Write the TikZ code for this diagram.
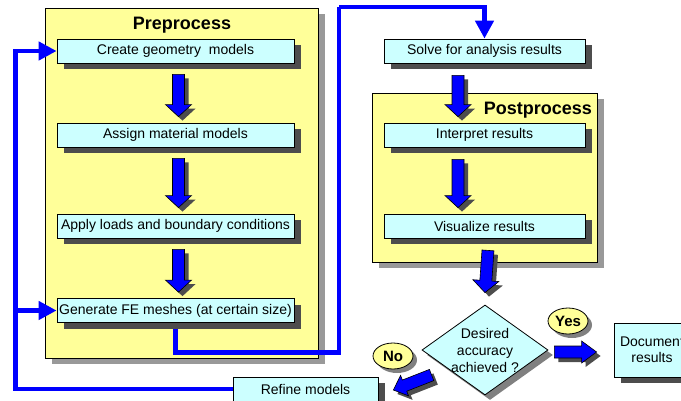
\documentclass[tikz,border=0pt]{standalone}
\usepackage{fontspec}
\setmainfont{Liberation Sans}
\usetikzlibrary{calc,shapes.geometric,shadows,arrows.meta}

\definecolor{paleyellow}{HTML}{FFFF99}
\definecolor{palecyan}{HTML}{CCFFFF}
\definecolor{shadowdark}{HTML}{4D4D4D}
\definecolor{shadowmid}{HTML}{808080}
\definecolor{shadowlight}{HTML}{999999}
\definecolor{flowblue}{HTML}{0000FF}

% Fat block arrow from tail #1 to tip #2; #3 head length, #4 half head width
\newcommand\blockarrow[4]{%
  \coordinate (ba-s) at #1;
  \coordinate (ba-e) at #2;
  \coordinate (ba-h) at ($(ba-e)!#3!(ba-s)$);
  \fill[shadowdark, transform canvas={shift={(4pt,-4pt)}}]
    ($(ba-s)!6pt!90:(ba-e)$) -- ($(ba-h)!6pt!90:(ba-e)$) -- ($(ba-h)!#4!90:(ba-e)$)
    -- (ba-e) -- ($(ba-h)!#4!-90:(ba-e)$) -- ($(ba-h)!6pt!-90:(ba-e)$)
    -- ($(ba-s)!6pt!-90:(ba-e)$) -- cycle;
  \draw[fill=flowblue, draw=black, line width=0.6pt]
    ($(ba-s)!6pt!90:(ba-e)$) -- ($(ba-h)!6pt!90:(ba-e)$) -- ($(ba-h)!#4!90:(ba-e)$)
    -- (ba-e) -- ($(ba-h)!#4!-90:(ba-e)$) -- ($(ba-h)!6pt!-90:(ba-e)$)
    -- ($(ba-s)!6pt!-90:(ba-e)$) -- cycle;
}

\tikzset{
  stage/.style={draw=black, line width=0.8pt, fill=paleyellow, inner sep=0pt,
    drop shadow={shadow xshift=7pt, shadow yshift=-6pt, fill=shadowlight, opacity=1}},
  task/.style={draw=black, line width=0.8pt, fill=palecyan, inner sep=0pt,
    minimum height=24pt, font=\fontsize{14}{17}\selectfont,
    drop shadow={shadow xshift=7pt, shadow yshift=-6pt, fill=shadowdark, opacity=1}},
  title/.style={font=\fontsize{18}{20}\selectfont\bfseries, inner sep=0pt},
  tag/.style={ellipse, draw=black, line width=0.8pt, fill=paleyellow, inner sep=0pt,
    minimum width=40pt, minimum height=26pt, font=\fontsize{15}{17}\selectfont\bfseries,
    drop shadow={shadow xshift=4pt, shadow yshift=-4pt, fill=shadowmid, opacity=1}},
  flow/.style={draw=flowblue, line width=4.5pt},
  flowtip/.style={flow, -{Triangle[length=18pt, width=18pt]}},
}

\begin{document}
\begin{tikzpicture}[x=1pt, y=-1pt]
\useasboundingbox (0,0) rectangle (681,400);

% Preprocess stage
\node[stage, minimum width=273pt, minimum height=350pt] (pre) at (181.5,183) {};
\node[title] (pretitle) at (182,25) {Preprocess};
\node[task, minimum width=237pt] (create) at (175.5,51) {Create geometry\ \ models};
\node[task, minimum width=237pt] (assign) at (175.5,135) {Assign material models};
\node[task, minimum width=237pt] (apply) at (175.5,226) {Apply loads and boundary conditions};
\node[task, minimum width=237pt] (generate) at (175.5,310.5) {Generate FE meshes (at certain size)};

\blockarrow{([shift={(3pt,-11pt)}]create.south)}{([shift={(3pt,6pt)}]assign.north)}{12pt}{13pt}
\blockarrow{([shift={(3pt,-11pt)}]assign.south)}{([shift={(3pt,6pt)}]apply.north)}{12pt}{13pt}
\blockarrow{([shift={(3pt,-11pt)}]apply.south)}{([shift={(3pt,6pt)}]generate.north)}{12pt}{13pt}

% Solver and postprocess stage
\node[task, minimum width=201pt] (solve) at (484.5,51) {Solve for analysis results};
\node[stage, minimum width=225pt, minimum height=169pt] (post) at (484.5,177.5) {};
\node[title, anchor=east] (posttitle) at (592,110) {Postprocess};
\node[task, minimum width=201pt] (interpret) at (484.5,135) {Interpret results};
\node[task, minimum width=201pt] (visualize) at (484.5,226) {Visualize results};

\blockarrow{([shift={(-26.5pt,-12pt)}]solve.south)}{([shift={(-26.5pt,6pt)}]interpret.north)}{12pt}{13pt}
\blockarrow{([shift={(-26.5pt,-12pt)}]interpret.south)}{([shift={(-26.5pt,6pt)}]visualize.north)}{12pt}{13pt}

% Decision
\node[diamond, draw=black, line width=0.8pt, fill=palecyan, inner sep=0pt,
      minimum width=126pt, minimum height=90pt,
      drop shadow={shadow xshift=5pt, shadow yshift=-5pt, fill=shadowmid, opacity=1}]
      (acc) at (485,350) {};
\node[align=center, inner sep=0pt, font=\fontsize{14}{17}\selectfont] (acctext) at (acc.center)
      {Desired\\accuracy\\achieved ?};

\blockarrow{([shift={(3.5pt,-12pt)}]visualize.south)}{([yshift=12pt]acc.north)}{12pt}{13pt}

\node[task, minimum width=76pt, minimum height=54pt, align=center,
      font=\fontsize{14}{16}\selectfont] (doc) at (652,350) {Document\\results};
\node[task, minimum width=145pt] (refine) at (305.5,389) {Refine models};

\node[tag] (yes) at (568,321) {Yes};
\node[tag] (no) at (393,356) {No};

\blockarrow{([shift={(6pt,-2pt)}]acc.east)}{([shift={(-17pt,-2pt)}]doc.west)}{15pt}{11pt}
\blockarrow{([shift={(10pt,-25pt)}]acc.west)}{([shift={(15pt,-1pt)}]refine.east)}{12pt}{11pt}

% Feedback loop and hand-over to the solver
\coordinate (loopcorner) at ([xshift=-41pt]create.west);
\draw[flowtip] (refine.west) -| (loopcorner) -- (create.west);
\draw[flowtip] (loopcorner |- generate.west) -- (generate.west);

\coordinate (meshdrop) at ([yshift=-29.5pt]generate.south);
\coordinate (toprun) at (339,7);
\draw[flow] ([yshift=-6pt]generate.south) -- (meshdrop) -| (toprun);
\draw[flowtip] (toprun) -| (solve.north);
\end{tikzpicture}
\end{document}
